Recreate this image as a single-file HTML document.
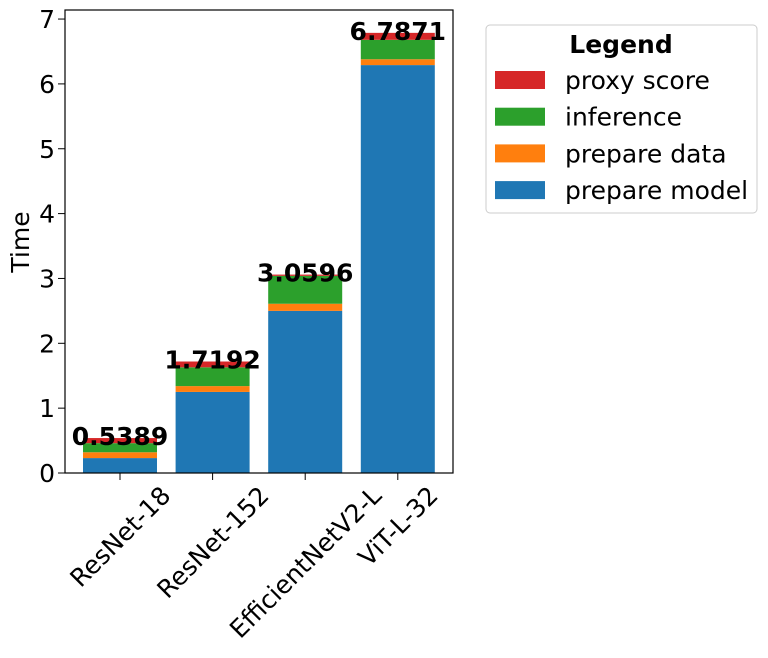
<!DOCTYPE html>
<html><head><meta charset="utf-8"><style>
body{margin:0;background:#fff;}
svg{font-family:"DejaVu Sans","Liberation Sans",sans-serif;}
</style></head><body>
<svg id="chart" width="768" height="653" xmlns="http://www.w3.org/2000/svg">
<rect x="0" y="0" width="768" height="653" fill="#fff"/>
<g id="bars"></g>
<g id="labels"></g>
<rect x="65" y="10" width="388" height="463" fill="none" stroke="#000" stroke-width="1.2"/>
<g id="yticks"></g>
<g id="xticks"></g>
<text x="29" y="242" font-size="25" text-anchor="middle" transform="rotate(-90 29 242)">Time</text>
<g>
<rect x="486" y="25" width="271" height="188" rx="4" fill="#fff" stroke="#ccc"/>
<text x="621" y="53" font-size="25" font-weight="bold" text-anchor="middle">Legend</text>
<g id="legend-items"></g>
</g>
</svg>
<script>
const categories = ["ResNet-18","ResNet-152","EfficientNetV2-L","ViT-L-32"];
const prepareModel = [0.23,1.25,2.50,6.29];
const prepareData = [0.09,0.09,0.11,0.09];
const inference = [0.14,0.29,0.43,0.30];
const proxyScore = [0.0789,0.0892,0.0196,0.1071];
const totals = ["0.5389","1.7192","3.0596","6.7871"];
const yTicks = [0,1,2,3,4,5,6,7];
const seriesNames = ["prepare model","prepare data","inference","proxy score"];
const NS="http://www.w3.org/2000/svg";
const colors=["#1f77b4","#ff7f0e","#2ca02c","#d62728"];
const series=[prepareModel,prepareData,inference,proxyScore];
const y=v=>473-v*64.85;
const xc=i=>120+i*92.6;
const bw=74;
const FS=25;
function mk(t,a,p){const e=document.createElementNS(NS,t);for(const k in a)e.setAttribute(k,a[k]);p.appendChild(e);return e;}
const gb=document.getElementById('bars');
const gx=document.getElementById('xticks');
categories.forEach((c,i)=>{
  let base=0;
  series.forEach((s,j)=>{
    const r=mk('rect',{x:xc(i)-bw/2,y:y(base+s[i]),width:bw,height:y(base)-y(base+s[i]),fill:colors[j]},gb);
    
    
    base+=s[i];
  });
  const t=mk('text',{x:xc(i),y:y(base)+7,'font-size':FS,'font-weight':'bold','text-anchor':'middle'},document.getElementById('labels'));
  t.textContent=totals[i];
  
  
  const tk=mk('line',{x1:xc(i),x2:xc(i),y1:473,y2:480,stroke:'#000'},gx);
  
  
  const lt=mk('text',{x:0,y:0,'font-size':FS,'text-anchor':'middle'},gx);
  lt.textContent=c;
  
  
  const L=lt.getComputedTextLength();
  const cy=484+(L+FS*0.75)*0.354;
  lt.setAttribute('y',FS*0.36);
  lt.setAttribute('transform',`translate(${xc(i)} ${cy}) rotate(-45)`);
});
const gy=document.getElementById('yticks');
yTicks.forEach(v=>{
  const l=mk('line',{x1:58,x2:65,y1:y(v),y2:y(v),stroke:'#000'},gy);
  
  
  const t=mk('text',{x:55,y:y(v)+9,'font-size':FS,'text-anchor':'end'},gy);
  t.textContent=v;
  
  
});
const gl=document.getElementById('legend-items');
[3,2,1,0].forEach((j,k)=>{
  const yy=80+k*36.7;
  const r=mk('rect',{x:495,y:yy-9,width:50,height:18,fill:colors[j]},gl);
  
  
  const t=mk('text',{x:565,y:yy+9,'font-size':FS},gl);
  t.textContent=seriesNames[j];
  
  
});
</script>
</body></html>
